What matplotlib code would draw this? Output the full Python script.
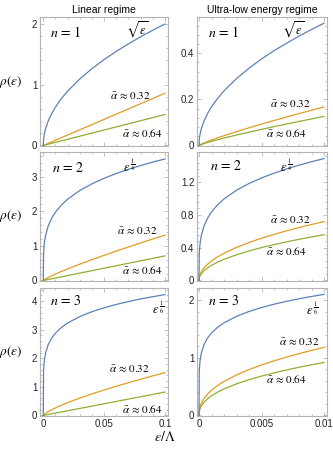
import matplotlib
matplotlib.use("Agg")
import matplotlib.pyplot as plt
from matplotlib.ticker import AutoMinorLocator

plt.rcParams['font.family'] = ['Liberation Sans', 'DejaVu Sans']
plt.rcParams['mathtext.fontset'] = 'stix'

# sample positions in units of the column's x range (x / xmax)
t = [0, 0.002, 0.005, 0.01, 0.02, 0.04, 0.07, 0.1, 0.15, 0.2, 0.3, 0.4,
     0.5, 0.6, 0.7, 0.8, 0.9, 1.0]
x_linear = [v * 0.1 for v in t]
x_ultra = [v * 0.01 for v in t]

# row 1, n = 1
lin1_blue = [0, 0.089, 0.141, 0.2, 0.283, 0.4, 0.529, 0.632, 0.775, 0.894, 1.095,
             1.265, 1.414, 1.549, 1.673, 1.789, 1.897, 2.0]
lin1_orange = [0, 0.0017, 0.0043, 0.0086, 0.017, 0.034, 0.060, 0.086, 0.129, 0.172,
               0.258, 0.344, 0.43, 0.516, 0.602, 0.688, 0.774, 0.86]
lin1_green = [0, 0.001, 0.0026, 0.0051, 0.0102, 0.0204, 0.0357, 0.051, 0.0765, 0.102,
              0.153, 0.204, 0.255, 0.306, 0.357, 0.408, 0.459, 0.51]
ult1_blue = [0, 0.0237, 0.0375, 0.053, 0.075, 0.106, 0.140, 0.168, 0.205, 0.237,
             0.290, 0.335, 0.375, 0.411, 0.443, 0.474, 0.503, 0.53]
ult1_orange = [0, 0.0009, 0.0019, 0.0033, 0.006, 0.0108, 0.0174, 0.0236, 0.0333,
               0.0425, 0.060, 0.0766, 0.0927, 0.1082, 0.1233, 0.1381, 0.1527, 0.167]
ult1_green = [0, 0.0006, 0.0014, 0.0025, 0.0045, 0.0082, 0.0131, 0.0178, 0.0251,
              0.0321, 0.0453, 0.0578, 0.0699, 0.0816, 0.093, 0.1042, 0.1152, 0.126]

# row 2, n = 2
lin2_blue = [0, 0.742, 0.933, 1.110, 1.320, 1.570, 1.806, 1.974, 2.184, 2.347, 2.598,
             2.791, 2.952, 3.089, 3.211, 3.319, 3.419, 3.51]
lin2_orange = [0, 0.0067, 0.0145, 0.0261, 0.0472, 0.0849, 0.1366, 0.1851, 0.2612,
               0.3335, 0.4708, 0.6012, 0.7268, 0.8486, 0.9673, 1.0836, 1.1977, 1.31]
lin2_green = [0, 0.0014, 0.0036, 0.0071, 0.0142, 0.0284, 0.0497, 0.071, 0.1065, 0.142,
              0.213, 0.284, 0.355, 0.426, 0.497, 0.568, 0.639, 0.71]
ult2_blue = [0, 0.315, 0.396, 0.471, 0.560, 0.666, 0.766, 0.838, 0.927, 0.996, 1.103,
             1.185, 1.253, 1.311, 1.363, 1.409, 1.451, 1.49]
ult2_orange = [0, 0.036, 0.057, 0.079, 0.110, 0.154, 0.201, 0.238, 0.290, 0.333, 0.404,
               0.464, 0.516, 0.563, 0.607, 0.647, 0.684, 0.72]
ult2_green = [0, 0.028, 0.044, 0.061, 0.086, 0.119, 0.156, 0.185, 0.225, 0.259, 0.314,
              0.361, 0.402, 0.438, 0.472, 0.503, 0.532, 0.56]

# row 3, n = 3
lin3_blue = [0, 1.502, 1.749, 1.964, 2.204, 2.474, 2.716, 2.882, 3.083, 3.235, 3.461,
             3.631, 3.768, 3.885, 3.986, 4.076, 4.156, 4.23]
lin3_orange = [0, 0.014, 0.028, 0.047, 0.080, 0.134, 0.204, 0.267, 0.362, 0.449, 0.608,
               0.755, 0.892, 1.023, 1.148, 1.269, 1.386, 1.5]
lin3_green = [0, 0.0016, 0.0041, 0.0082, 0.0164, 0.0328, 0.0574, 0.082, 0.123, 0.164,
              0.246, 0.328, 0.41, 0.492, 0.574, 0.656, 0.738, 0.82]
ult3_blue = [0, 0.746, 0.868, 0.975, 1.094, 1.228, 1.348, 1.431, 1.531, 1.606, 1.718,
             1.803, 1.871, 1.929, 1.979, 2.023, 2.063, 2.1]
ult3_orange = [0, 0.082, 0.121, 0.163, 0.219, 0.296, 0.376, 0.438, 0.522, 0.591, 0.703,
               0.796, 0.876, 0.947, 1.012, 1.072, 1.128, 1.18]
ult3_green = [0, 0.064, 0.094, 0.127, 0.171, 0.231, 0.293, 0.342, 0.407, 0.461, 0.548,
              0.620, 0.683, 0.739, 0.789, 0.836, 0.879, 0.92]

col_titles = ["Linear regime", "Ultra-low energy regime"]
n_labels = [r"$n\,=\,1$", r"$n\,=\,2$", r"$n\,=\,3$"]
power_labels = [r"$\sqrt{\varepsilon}$", r"$\varepsilon^{\,\frac{1}{4}}$",
                r"$\varepsilon^{\,\frac{1}{6}}$"]
alpha_labels = [r"$\bar{\alpha}\,\approx\,0.32$", r"$\bar{\alpha}\,\approx\,0.64$"]

xticks_linear = [0, 0.05, 0.1]
xticklabels_linear = ["0", "0.05", "0.1"]
xticks_ultra = [0, 0.005, 0.01]
xticklabels_ultra = ["0", "0.005", "0.01"]

yticks = [[0, 1, 2], [0, 0.2, 0.4],
          [0, 1, 2, 3], [0, 0.4, 0.8, 1.2],
          [0, 1, 2, 3, 4], [0, 1, 2]]
yticklabels = [["0", "1", "2"], ["0", "0.2", "0.4"],
               ["0", "1", "2", "3"], ["0", "0.4", "0.8", "1.2"],
               ["0", "1", "2", "3", "4"], ["0", "1", "2"]]
ytops = [2.115, 0.557, 3.71, 1.57, 4.46, 2.21]

blue, orange, green = "#5E81B5", "#E19C24", "#8FB032"

series = [
    (lin1_blue, lin1_orange, lin1_green), (ult1_blue, ult1_orange, ult1_green),
    (lin2_blue, lin2_orange, lin2_green), (ult2_blue, ult2_orange, ult2_green),
    (lin3_blue, lin3_orange, lin3_green), (ult3_blue, ult3_orange, ult3_green),
]

# label positions in axes fraction: n, power, alpha .32, alpha .64
label_pos = [
    ((0.08, 0.876), (0.76, 0.90), (0.707, 0.395), (0.80, 0.10)),
    ((0.085, 0.876), (0.74, 0.90), (0.715, 0.333), (0.69, 0.10)),
    ((0.09, 0.878), (0.70, 0.89), (0.76, 0.395), (0.80, 0.085)),
    ((0.10, 0.895), (0.685, 0.89), (0.72, 0.48), (0.69, 0.23)),
    ((0.08, 0.895), (0.925, 0.84), (0.70, 0.375), (0.80, 0.055)),
    ((0.085, 0.895), (0.885, 0.835), (0.79, 0.58), (0.69, 0.29)),
]

fig = plt.figure(figsize=(3.33, 4.51), dpi=100)

lefts = [40 / 333, 197 / 333]
widths = [128 / 333, 130 / 333]
bottoms = [(451 - 146) / 451, (451 - 281) / 451, (451 - 416) / 451]
heights = [129 / 451, 129 / 451, 128 / 451]

frame_col = "#b4b4b4"

for i in range(6):
    row, col = divmod(i, 2)
    ax = fig.add_axes([lefts[col], bottoms[row], widths[col], heights[row]])
    xs = x_linear if col == 0 else x_ultra
    b, o, g = series[i]
    ax.plot(xs, o, color=orange, lw=0.9)
    ax.plot(xs, g, color=green, lw=0.9)
    ax.plot(xs, b, color=blue, lw=0.9)

    if col == 0:
        ax.set_xlim(-0.0027, 0.1025)
        ax.set_xticks(xticks_linear)
        ax.set_xticklabels(xticklabels_linear if row == 2 else [])
    else:
        ax.set_xlim(-0.00016, 0.01024)
        ax.set_xticks(xticks_ultra)
        ax.set_xticklabels(xticklabels_ultra if row == 2 else [])
    ax.set_ylim(-0.004 * ytops[i], ytops[i])
    ax.set_yticks(yticks[i])
    ax.set_yticklabels(yticklabels[i])
    ax.xaxis.set_minor_locator(AutoMinorLocator(5))
    ax.yaxis.set_minor_locator(AutoMinorLocator(5))

    for sp in ax.spines.values():
        sp.set_color(frame_col)
        sp.set_linewidth(0.8)
    ax.tick_params(which="both", direction="in", top=True, right=True,
                   color=frame_col, width=0.6, labelsize=7,
                   labelcolor="#222222", pad=2)
    ax.tick_params(which="major", length=3)
    ax.tick_params(which="minor", length=1.5)

    pn, pp, pa, pb = label_pos[i]
    ax.text(pn[0], pn[1], n_labels[row], transform=ax.transAxes, fontsize=10,
            ha="left", va="center")
    ax.text(pp[0], pp[1], power_labels[row], transform=ax.transAxes, fontsize=9,
            ha="center", va="center")
    ax.text(pa[0], pa[1], alpha_labels[0], transform=ax.transAxes, fontsize=8,
            ha="center", va="center")
    ax.text(pb[0], pb[1], alpha_labels[1], transform=ax.transAxes, fontsize=8,
            ha="center", va="center")

    if row == 0:
        ax.set_title(col_titles[col], fontsize=7.5, pad=3)
    if col == 0:
        yc = bottoms[row] + heights[row] / 2
        fig.text(11 / 333, yc, r"$\rho(\varepsilon)$", fontsize=9.5,
                 ha="center", va="center")

fig.text(165 / 333, 1 - 437 / 451, r"$\varepsilon/\Lambda$", fontsize=10,
         ha="center", va="center")

fig.savefig("out.png", dpi=100)
